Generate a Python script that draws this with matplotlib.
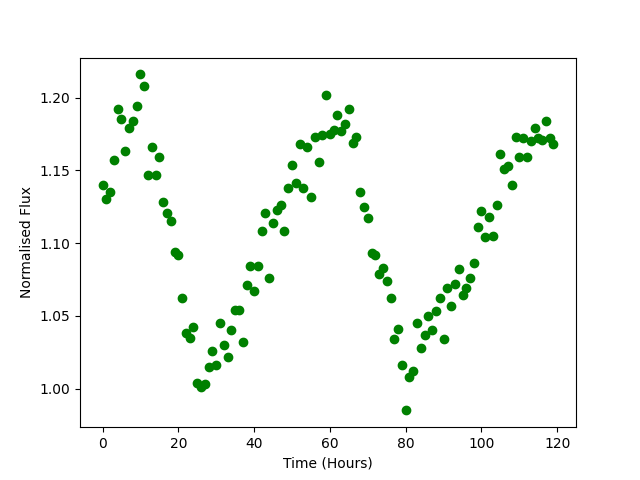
import matplotlib
matplotlib.use("Agg")
import matplotlib.pyplot as plt
import numpy as np

time_hours = np.arange(120)
flux = [
    1.140, 1.130, 1.135, 1.157, 1.192, 1.185, 1.163, 1.179, 1.184, 1.194,
    1.216, 1.208, 1.147, 1.166, 1.147, 1.159, 1.128, 1.121, 1.115, 1.094,
    1.092, 1.062, 1.038, 1.035, 1.042, 1.004, 1.001, 1.003, 1.015, 1.026,
    1.016, 1.045, 1.030, 1.022, 1.040, 1.054, 1.054, 1.032, 1.071, 1.084,
    1.067, 1.084, 1.108, 1.121, 1.076, 1.114, 1.123, 1.126, 1.108, 1.138,
    1.154, 1.141, 1.168, 1.138, 1.166, 1.132, 1.173, 1.156, 1.174, 1.202,
    1.175, 1.178, 1.188, 1.177, 1.182, 1.192, 1.169, 1.173, 1.135, 1.125,
    1.117, 1.093, 1.092, 1.079, 1.083, 1.074, 1.062, 1.034, 1.041, 1.016,
    0.985, 1.008, 1.012, 1.045, 1.028, 1.037, 1.050, 1.040, 1.053, 1.062,
    1.034, 1.069, 1.057, 1.072, 1.082, 1.064, 1.069, 1.076, 1.086, 1.111,
    1.122, 1.104, 1.118, 1.105, 1.126, 1.161, 1.151, 1.153, 1.140, 1.173,
    1.159, 1.172, 1.159, 1.170, 1.179, 1.172, 1.171, 1.184, 1.172, 1.168,
]

fig, ax = plt.subplots(figsize=(6.4, 4.8), dpi=100)
ax.plot(time_hours, flux, 'o', color='green')
ax.set_xlabel('Time (Hours)')
ax.set_ylabel('Normalised Flux')
fig.savefig('out.png')
